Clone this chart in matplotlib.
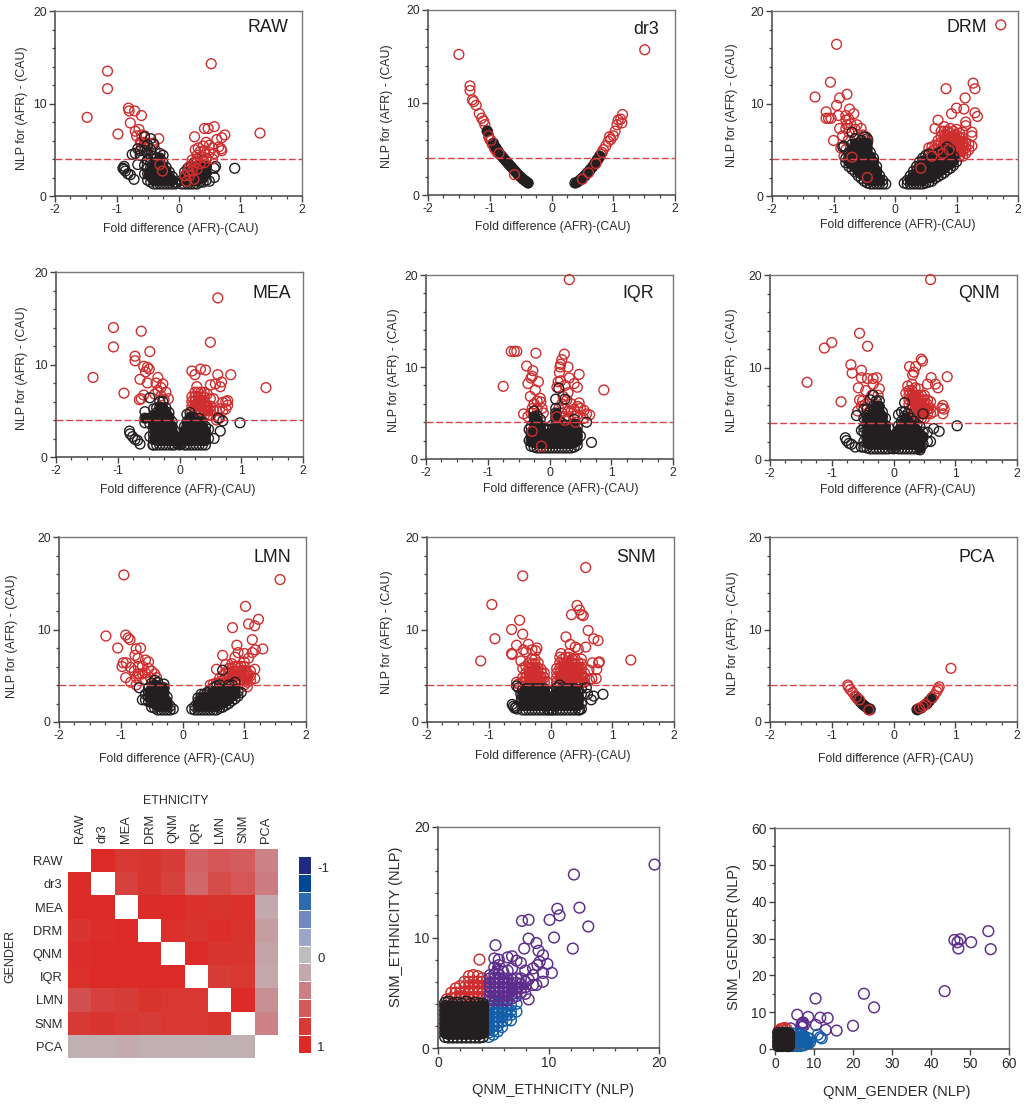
import numpy as np
import matplotlib
matplotlib.use("Agg")
import matplotlib.pyplot as plt
from matplotlib.colors import LinearSegmentedColormap
from matplotlib.ticker import MultipleLocator

plt.rcParams['font.family'] = ['Liberation Sans', 'DejaVu Sans']

W, H = 1028, 1106
BLACK, RED, BLUE, PURPLE = '#231f20', '#cf2e2e', '#145fa8', '#5c2d8c'

# ---- every cloud is a list of (x, [y values]) columns ----
RAW_RED = [(-1.48,[8.5]),(-1.15,[13.5,11.6]),(-.98,[6.7]),(-.81,[9.5]),(-.8,[9.2]),(-.71,[9.2]),(-.6,[8.7,6.6,5.8,5.2]),
 (-.78,[7.9]),(-.7,[7.0]),(-.64,[7.2]),(-.68,[6.5]),(-.55,[6.5,5.8]),(-.32,[6.2]),(-.62,[5.8]),(-.5,[5.5,3.9]),(-.42,[5.7]),
 (-.52,[4.8]),(-.38,[5.0])]
RAW_BLACK = [(-.05,[1.3,1.5]),(-.10,[1.3,1.7,2.1]),(-.15,[1.3,1.7,2.1,2.6]),(-.20,[1.3,1.7,2.1,2.6,3.1]),
 (-.25,[1.3,1.7,2.1,2.6,3.1,3.6,4.4]),(-.30,[1.3,1.7,2.1,2.6,3.1,3.6,4.1,4.6]),(-.35,[1.3,1.7,2.1,2.6,3.1,3.6,4.1]),
 (-.40,[1.3,1.7,2.1,2.6,3.1,3.6,4.3,5.6]),(-.45,[1.5,2.1,2.6,3.1,3.6,4.4,5.0,6.2]),(-.50,[1.7,2.4,3.0,3.9,4.6,5.5]),
 (-.55,[2.4,3.3,4.9,6.4]),(-.62,[4.4,4.9]),(-.66,[3.4,5.1]),(-.70,[4.6]),(-.72,[1.8]),(-.75,[4.5]),(-.78,[2.3]),
 (-.82,[2.4]),(-.86,[2.7]),(-.88,[3.2,2.9]),(-.90,[3.0]),
 (.05,[1.3,1.7]),(.1,[1.3,1.7,2.1,2.6]),(.15,[1.3,1.7,2.1,2.6,3.0]),(.2,[1.3,1.7,2.1,2.6,3.1]),
 (.25,[1.3,1.7,2.1,2.6,3.1,3.6]),(.3,[1.3,1.7,2.2,2.7,3.2,4.0]),(.35,[1.5,2.0,2.5,3.0,3.5]),(.4,[1.5,2.0,2.5,3.0,3.8]),
 (.45,[1.7,2.5,3.2,4.0]),(.5,[1.6]),(.58,[2.0,3.0]),(.6,[3.2]),(.91,[3.0])]
RAW_TOP = [(.53,[14.3]),(1.32,[6.8]),(.26,[6.4]),(.42,[7.3,4.9,3.6]),(.48,[7.3]),(.58,[7.5,4.6]),(.75,[6.6]),(.7,[6.3,4.9]),
 (.62,[6.1]),(.65,[5.3]),(.69,[5.1]),(.45,[5.8,4.1]),(.4,[5.4]),(.5,[5.5,4.7]),(.55,[5.2,4.0]),(.32,[5.2]),(.27,[5.0]),
 (.35,[4.8,3.5]),(.3,[4.4,2.9]),(.38,[4.2]),(.22,[3.9,2.7]),(.28,[3.7]),(.18,[3.2,2.2]),(.25,[3.2,1.8]),(.15,[2.7]),
 (.1,[2.2]),(.13,[1.6]),(-.3,[3.4]),(-.26,[2.7])]

DR3_RED = [(-1.5,[15.2]),(-1.32,[11.8,11.3]),(-1.28,[10.3]),(-1.26,[10.1]),(-1.22,[9.7]),(-1.17,[8.8]),(-1.13,[8.3]),(-1.1,[8.0]),
 (-1.08,[7.6]),(-1.04,[6.9]),(-1.02,[6.4]),(-1.0,[6.0]),(-.96,[5.5]),(-.92,[5.0]),(-.88,[4.6]),
 (.76,[3.9]),(.8,[4.4]),(.84,[4.9]),(.88,[5.3]),(.92,[5.8]),(.94,[6.3]),(.96,[6.0]),(1.0,[6.4]),(1.03,[6.9]),(1.06,[7.6]),
 (1.08,[8.1]),(1.12,[8.2]),(1.14,[7.8]),(1.15,[8.7]),(1.51,[15.7])]
DR3_BLACK = [(-.38,[1.3]),(-.42,[1.5]),(-.46,[1.7]),(-.5,[1.95]),(-.54,[2.2]),(-.58,[2.5]),(-.62,[2.8]),(-.66,[3.1]),(-.7,[3.4]),
 (-.74,[3.7]),(-.78,[4.0]),(-.82,[4.3]),(-.86,[4.7]),(-.9,[5.1]),(-.94,[5.6]),(-1.04,[6.9]),
 (.38,[1.3]),(.42,[1.4]),(.46,[1.6]),(.5,[1.85]),(.54,[2.1]),(.58,[2.4]),(.62,[2.7]),(.66,[3.0]),(.7,[3.4]),(.74,[3.8]),(.78,[4.2])]
DR3_TOP = [(.5,[1.7]),(.6,[2.4]),(.72,[3.4]),(.82,[4.6]),(-.6,[2.2]),(-.85,[4.5]),(-.98,[5.9]),(-1.02,[6.4])]

DRM_RED = [(-1.3,[10.7]),(-1.12,[9.1,8.4]),(-1.08,[8.4]),(-1.04,[8.4]),(-1.05,[12.3]),(-.95,[16.4,9.8]),(-.9,[10.6,7.3]),(-.92,[8.7]),
 (-.78,[11.0,7.7]),(-.74,[9.4]),(-.67,[8.9]),(-.8,[8.7,8.2,7.3,5.0]),(-.75,[8.3,6.9]),(-.72,[7.8]),(-.62,[7.7]),(-.55,[7.3]),
 (-1.0,[6.0]),(-.85,[6.5]),(-.65,[7.2]),(-.88,[5.2]),(-.83,[4.3]),(-.76,[6.0]),(-.6,[6.6]),(-.52,[6.6]),(-.47,[6.4]),(-.44,[6.0]),
 (.55,[5.2,4.6]),(.6,[5.3,4.8]),(.65,[5.5,5.0,7.3]),(.7,[5.5,6.0,8.2]),(.75,[5.2,5.8,6.4,7.0]),(.8,[5.2,5.8,6.4,7.0,7.5]),
 (.85,[5.5,6.0,6.5,7.0]),(.9,[5.3,5.8,6.3,6.8,7.3]),(.95,[5.0,5.5,6.0,6.5,7.0]),(1.0,[4.6,5.1,5.6,6.1,6.6,7.2]),
 (1.05,[4.3,4.8,5.3,5.8,6.3,6.8]),(1.1,[4.3,4.8,5.3,5.8,6.3,6.9]),(1.15,[4.6,5.2,5.8,7.6,8.0]),(1.2,[5.0,5.6]),(1.25,[5.4,6.5,6.9]),
 (.83,[11.6]),(1.0,[9.5]),(.92,[8.9]),(1.12,[9.4]),(1.14,[10.6]),(1.27,[12.2]),(1.3,[11.6,9.0]),(1.34,[8.6]),(1.72,[18.5])]
DRM_BLACK = [(-.15,[1.3]),(-.2,[1.3,1.7]),(-.25,[1.3,1.7,2.2]),(-.3,[1.3,1.7,2.2,2.7,3.2]),(-.35,[1.3,1.7,2.2,2.7,3.2,3.7,4.1]),
 (-.4,[1.3,1.7,2.2,2.7,3.2,3.7,4.2,4.7]),(-.45,[1.4,1.8,2.2,2.7,3.2,3.7,4.2,4.7,5.2,5.7,6.2]),
 (-.5,[1.6,2.2,2.7,3.2,3.7,4.2,4.7,5.2,5.7,6.4]),(-.55,[1.9,2.4,2.9,3.4,3.9,4.4,4.9,5.4,6.0]),(-.6,[2.2,2.7,3.2,3.7,4.2,4.7,5.2,5.7]),
 (-.65,[2.6,3.1,3.6,4.1,4.6,5.1,5.6,6.2]),(-.7,[2.9,3.4,3.9,4.4,4.9,5.6,6.9]),(-.75,[3.2,3.7,4.2,4.7]),(-.8,[3.6,4.1]),(-.85,[5.3]),(-.83,[5.4]),
 (.15,[1.4]),(.2,[1.3,1.7]),(.25,[1.3,1.7,2.2]),(.3,[1.3,1.7,2.2,2.7]),(.35,[1.3,1.7,2.2,2.7,3.2]),(.4,[1.3,1.7,2.2,2.7,3.2,3.7]),
 (.45,[1.3,1.7,2.2,2.7,3.2,3.7,4.1]),(.5,[1.4,1.9,2.4,2.9,3.4,3.9,4.4]),(.55,[1.5,2.0,2.5,3.0,3.5,4.0,4.5]),(.6,[1.6,2.1,2.6,3.1,3.6,4.1]),
 (.65,[1.9,2.4,2.9,3.4,3.9,4.4]),(.7,[2.1,2.6,3.1,3.6,4.1,4.6]),(.75,[2.3,2.8,3.3,3.8,4.3,4.8]),(.8,[2.5,3.0,3.5,4.0,4.5,5.0]),
 (.85,[2.8,3.3,3.8,4.3,4.8,5.3]),(.9,[3.0,3.5,4.0,4.5,5.0]),(.95,[3.3,3.8,4.3]),(1.0,[3.7])]
DRM_TOP = [(-.7,[4.2]),(-.45,[2.0]),(.42,[3.0]),(.6,[4.3]),(.7,[5.0]),(.78,[4.6]),(.88,[5.0])]

MEA_RED = [(-1.4,[8.6]),(-1.07,[14.0,11.9]),(-.9,[6.9]),(-.72,[10.9,10.4]),(-.62,[13.6,6.3]),(-.58,[9.8,6.7]),(-.52,[9.7,8.0]),(-.49,[9.5]),
 (-.55,[9.2]),(-.64,[8.4]),(-.48,[11.4]),(-.35,[8.6,7.2]),(-.38,[8.0]),(-.27,[7.9]),(-.3,[7.5,6.6]),(-.22,[7.0]),(-.18,[6.3]),
 (-.65,[6.2]),(-.4,[6.8]),(-.25,[6.2]),
 (.62,[17.2,8.9]),(.5,[12.4,7.8]),(.2,[9.3,5.0,5.5,6.0,6.5]),(.25,[8.9,5.0,5.5,6.0,6.5,7.0]),(.34,[9.5]),(.42,[9.4]),(.68,[8.1]),(.83,[8.9]),
 (.66,[7.6]),(.58,[7.9]),(.28,[7.6]),(1.4,[7.5]),(.3,[5.0,5.5,6.0,6.5,7.0]),(.35,[5.0,5.5,6.0,6.5,7.0]),(.4,[4.5,5.0,5.5,6.0,6.5,7.0]),
 (.45,[4.5,5.0,5.5,6.8]),(.5,[4.5,5.0,5.5,6.3]),(.55,[5.0,6.3]),(.6,[4.0,5.0]),(.65,[4.2,5.2]),(.7,[5.9,5.0]),(.75,[5.2,6.0]),(.78,[5.6,6.1])]
MEA_BLACK = [(0,[1.3,1.6,1.9]),(-.03,[1.4,1.8]),(-.08,[1.3,1.8,2.3,2.8]),(-.12,[1.3,1.8,2.3,2.8,3.3,3.8]),(-.17,[1.3,1.8,2.3,2.8,3.3,3.8,4.3,4.8]),
 (-.22,[1.3,1.8,2.3,2.8,3.3,3.8,4.3,4.8,5.3]),(-.27,[1.3,1.8,2.3,2.8,3.3,3.8,4.3,4.8,5.3,6.0]),(-.32,[1.3,1.8,2.3,2.8,3.3,3.8,4.3,4.8,5.4,6.0]),
 (-.37,[1.3,1.8,2.3,2.8,3.3,3.8,4.3,4.8,5.3]),(-.42,[1.3,1.9,2.4,3.0,3.5,4.0,4.5,5.2]),(-.48,[2.2,3.6,4.2,6.4]),(-.56,[3.7,4.2,4.9]),
 (-.64,[1.4]),(-.68,[1.8]),(-.72,[1.9]),(-.76,[2.2]),(-.8,[2.5]),(-.81,[2.8]),(-.43,[1.3]),
 (.03,[1.4,1.8]),(.08,[1.3,1.8,2.3,2.8,3.3]),(.12,[1.3,1.8,2.3,2.8,3.3,3.8,4.6]),(.17,[1.3,1.8,2.3,2.8,3.3,3.8,4.3,4.8]),
 (.22,[1.3,1.8,2.3,2.8,3.3,3.8,4.3]),(.27,[1.3,1.8,2.3,2.8,3.3,3.8]),(.32,[1.3,1.8,2.3,2.8,3.3,3.8,4.2]),(.37,[1.3,1.8,2.3,2.8,3.3,3.8]),
 (.42,[1.3,1.8,2.3,2.8,3.3]),(.47,[2.0,3.0]),(.56,[2.0]),(.66,[2.8]),(.7,[3.9]),(.98,[3.7]),(.63,[4.2])]

IQR_RED = [(-.75,[7.9]),(-.62,[11.7]),(-.57,[11.7]),(-.53,[11.7]),(-.22,[11.5]),(-.37,[10.1]),(-.27,[9.6]),(-.28,[9.0,5.5]),(-.3,[8.8,5.0]),
 (-.35,[8.2,4.6]),(-.18,[8.4]),(-.23,[7.5]),(-.31,[6.8]),(-.15,[6.6]),(-.14,[6.2]),(-.42,[4.9]),(-.25,[6.0]),(-.2,[6.3,5.5]),(-.12,[5.5]),(-.1,[5.0]),
 (.32,[19.5,8.8]),(.24,[11.4]),(.2,[10.8,6.0,5.0]),(.18,[10.3,8.5]),(.17,[10.0]),(.3,[10.0,7.2,5.2,4.4]),(.16,[9.4]),(.48,[9.2,6.1]),(.14,[8.4]),
 (.4,[8.2,5.4,4.7]),(.45,[7.8,4.8]),(.25,[8.0,5.5,4.6]),(.12,[7.8]),(.88,[7.5]),(.22,[6.8]),(.28,[6.4]),(.35,[6.0,5.2]),(.46,[5.7]),(.5,[5.5]),
 (.56,[5.3]),(.6,[4.9]),(.65,[4.8]),(.55,[4.4]),(.15,[5.5])]
IQR_BLACK = [(-.33,[2.0,3.2]),(-.3,[1.4,1.9,2.4,2.9,3.5]),(-.25,[1.3,1.8,2.3,2.8,3.3,4.0,4.6,5.2]),(-.2,[1.2,1.7,2.2,2.7,3.2,3.7,4.2,4.7]),
 (-.15,[1.2,1.7,2.2,2.7,3.2,3.7,4.3]),(-.1,[1.2,1.7,2.2,2.7,3.4]),(-.05,[1.2,1.7,2.2,2.7,3.2]),(0,[1.2,1.7,2.2,2.7,3.2]),
 (.05,[1.2,1.7,2.2,2.7,3.2,3.7]),(.1,[1.2,1.7,2.2,2.7,3.2,3.7,4.5,5.0,5.5,6.5]),(.15,[1.2,1.7,2.2,2.7,3.2,3.7,4.2,7.7]),
 (.2,[1.2,1.7,2.2,2.7,3.2,3.9]),(.25,[1.2,1.7,2.2,2.7,3.2,3.7,6.5]),(.3,[1.2,1.7,2.2,2.7,3.4]),(.35,[1.2,1.7,2.2,2.7,3.2,3.7]),
 (.4,[1.3,1.8,2.3,2.8,3.3,3.8,4.3]),(.45,[1.5,2.0,2.5,3.0,3.5]),(.5,[2.5]),(.6,[4.0]),(.68,[1.8])]
IQR_TOP = [(-.28,[3.0]),(-.13,[1.4]),(.12,[4.6]),(.25,[4.2]),(.42,[4.0])]

QNM_RED = [(-1.4,[8.4]),(-1.12,[12.1]),(-1.0,[12.7]),(-.85,[6.3]),(-.69,[10.3]),(-.67,[9.4]),(-.55,[13.7,6.5]),(-.42,[12.3,8.8]),(-.52,[9.7,8.9,5.8]),
 (-.33,[8.8,8.2]),(-.27,[8.9]),(-.57,[7.8]),(-.45,[7.5]),(-.23,[7.7]),(-.58,[5.3]),(-.5,[6.4]),(-.46,[6.0]),(-.35,[7.0]),(-.25,[7.0]),
 (.6,[19.5,5.0,5.6,6.3]),(.45,[10.9,4.5,5.0,5.5,6.0,6.5,7.0]),(.47,[10.7]),(.26,[10.1]),(.36,[10.1]),(.33,[9.5]),(.31,[9.2]),(.61,[8.9]),
 (.87,[9.0]),(.68,[8.2]),(.72,[7.8]),(.55,[8.2,5.0,5.5,6.0,6.5]),(.23,[8.0]),(.2,[7.2]),(.8,[5.9,5.0]),(.82,[5.5]),(.78,[5.6]),(.65,[5.2]),
 (.25,[6.0,6.5,7.0,7.5]),(.3,[5.5,6.0,6.5,7.0,7.5,8.2]),(.35,[5.0,5.5,6.0,6.5,7.0,7.8]),(.4,[4.5,5.0,5.5,6.0,6.5,7.0,7.7]),(.5,[4.5,5.0,5.5,6.0,6.5,7.0])]
QNM_BLACK = [(0,[1.2,1.6,2.0]),(-.03,[1.3,1.8]),(-.08,[1.2,1.7,2.2,2.7,3.5]),(-.13,[1.2,1.7,2.2,2.7,3.2,3.7,4.5]),(-.18,[1.2,1.7,2.2,2.7,3.2,3.7,4.2,4.7,5.2]),
 (-.23,[1.2,1.7,2.2,2.7,3.2,3.7,4.2,4.7,5.2,5.8,6.4]),(-.28,[1.2,1.7,2.2,2.7,3.2,3.7,4.2,4.7,5.2,5.8,6.4]),
 (-.33,[1.2,1.7,2.2,2.7,3.2,3.7,4.2,4.7,5.2,5.8,7.0]),(-.38,[1.2,1.7,2.2,2.7,3.2,3.7,4.2,4.7,5.2,6.5]),(-.43,[1.3,1.8,2.3,2.8,3.3,3.8,4.3,4.8,5.5]),
 (-.48,[1.4,2.0,3.0,3.5,4.5,5.5]),(-.52,[3.2,1.4]),(-.6,[4.8]),(-.62,[1.4]),(-.68,[1.7]),(-.72,[1.8]),(-.76,[2.1]),(-.78,[2.4]),
 (.03,[1.3,1.8,2.3]),(.08,[1.2,1.7,2.2,2.7,3.2,3.7,4.9]),(.13,[1.2,1.7,2.2,2.7,3.2,3.7,4.2,5.2]),(.18,[1.2,1.7,2.2,2.7,3.2,3.7,4.2,4.7,5.2,6.2]),
 (.23,[1.2,1.7,2.2,2.7,3.2,3.7,4.2,5.0]),(.28,[1.2,1.7,2.2,2.7,3.2,3.7,4.5]),(.33,[1.2,1.7,2.2,2.7,3.2,3.7,4.2]),(.38,[1.2,1.7,2.2,2.7,3.2,3.8]),
 (.43,[1.1,1.3,1.8,2.3,2.8,3.6]),(.48,[1.7,2.5,3.0,5.0]),(.55,[2.0,3.0]),(.6,[2.0]),(.65,[3.4]),(.74,[3.1]),(1.03,[3.7])]

LMN_RED = [(-1.24,[9.3]),(-1.05,[8.0]),(-.92,[9.4,4.8]),(-.88,[9.1]),(-.85,[8.9]),(-.95,[15.9]),(-.75,[7.9,4.8,4.0]),(-.68,[8.0]),(-.77,[7.2]),(-.72,[6.9,6.0,5.2]),
 (-.98,[6.0]),(-.96,[6.4]),(-.91,[6.4]),(-.84,[5.9,4.3]),(-.78,[5.5]),(-.6,[6.7,5.3,4.6]),(-.55,[6.5,5.8]),(-.65,[6.0,5.2]),(-.7,[5.2]),(-.5,[5.5]),
 (-.45,[5.2]),(-.52,[4.8]),(-.42,[4.8]),
 (1.58,[15.4]),(1.02,[12.5]),(1.23,[11.1]),(1.07,[10.6,6.9]),(1.17,[10.4,4.7,5.7]),(.81,[10.2]),(1.13,[8.9,7.5]),(.88,[8.3]),(1.18,[7.8]),(1.3,[7.9]),
 (.9,[7.5,4.5,5.0,5.5,6.0]),(1.0,[7.4,4.0,4.5,5.0,5.5,6.0,6.5]),(.85,[7.0,4.5,5.0,5.5,6.0]),(.65,[7.2,4.5,5.0]),(.55,[5.7,4.2]),(.6,[4.2,4.7]),
 (.7,[4.3,4.8,5.3,6.2]),(.75,[4.3,4.8,5.3,5.8]),(.8,[4.3,4.8,5.3,5.8,6.3]),(.95,[4.5,5.0,5.5,6.0]),(1.05,[3.8,4.3,4.8,5.3]),(1.1,[4.5,5.0,5.5]),
 (.5,[4.1]),(.45,[4.0])]
LMN_BLACK = [(-.15,[1.4]),(-.2,[1.3,1.7]),(-.25,[1.3,1.7,2.2,2.7]),(-.3,[1.3,1.7,2.2,2.7,3.2,3.7,4.1]),(-.35,[1.3,1.7,2.2,2.7,3.2,3.7]),
 (-.4,[1.3,1.7,2.2,2.7,3.2,3.9,4.3]),(-.45,[1.5,2.0,2.5,3.0,3.5,4.0,4.5]),(-.5,[1.6,2.1,2.6,3.1,3.6,4.2]),(-.55,[2.2,2.7,3.2,3.7]),(-.6,[2.4,3.0]),
 (-.65,[2.4]),(-.7,[3.7]),(.15,[1.4]),(.2,[1.3,1.7]),(.25,[1.3,1.7,2.2,2.6]),(.3,[1.3,1.7,2.2,2.6,3.0]),(.35,[1.3,1.7,2.2,2.7,3.0]),
 (.4,[1.3,1.7,2.2,2.7,3.2]),(.45,[1.3,1.7,2.2,2.7,3.4]),(.5,[1.3,1.7,2.2,2.7,3.2,3.7]),(.55,[1.3,1.7,2.2,2.7,3.2,3.9]),(.6,[1.5,2.0,2.5,3.0,3.6,4.0]),
 (.65,[1.6,2.1,2.6,3.5,5.6]),(.7,[1.8,2.3,2.8,3.3,3.6]),(.75,[2.0,2.5,3.0,3.5,4.0]),(.8,[2.3,2.8,3.3,4.0]),(.85,[2.5,3.0,3.5,4.3]),(.9,[2.8,3.3]),(.95,[3.2])]

SNM_RED = [(-1.13,[6.6]),(-.95,[12.7]),(-.9,[9.0]),(-.45,[15.8,9.5,4.3,4.8,5.8]),(-.5,[11.0]),(-.63,[10.0,7.4]),(-.55,[8.3,4.3]),(-.62,[7.3]),(-.36,[8.4]),
 (-.44,[7.8]),(-.4,[7.6,4.3,4.8,5.3,6.0]),(-.3,[7.8,4.3,4.8,5.3,5.8,6.3,6.8]),(-.22,[8.0]),(-.24,[7.7]),(-.48,[6.6]),(-.52,[4.1]),
 (-.35,[4.3,4.8,5.3,5.8,6.4]),(-.25,[4.3,4.8,5.3,5.8,6.3,6.8]),(-.2,[4.3,4.8,5.3,5.8,6.4]),(-.15,[4.3,4.8,5.3,5.7]),(-.1,[4.3,4.8,5.3]),(-.05,[4.3]),
 (.57,[16.7,8.1]),(.43,[12.6]),(.47,[12.1]),(.5,[11.6,4.3,4.8,5.3,5.8,6.3,6.8]),(.53,[11.5]),(.34,[11.6]),(.61,[9.9]),(.7,[9.0]),(.77,[8.8]),(.25,[9.2,4.3,4.8,5.3,5.8,6.3,7.0]),
 (.32,[8.4]),(.4,[8.1,4.3,4.8,5.3,5.8,6.3,6.8]),(.45,[7.9,4.3,4.8,5.3,5.8,6.4]),(.17,[7.4]),(.3,[7.4,4.3,4.8,5.3,5.8,6.3,7.0]),(1.3,[6.7]),(.78,[6.4]),(.79,[6.5]),
 (.68,[6.4]),(.75,[5.7]),(.62,[5.6]),(.74,[4.7]),(.67,[4.7]),(.63,[4.5]),(.1,[4.3,4.8,5.3,5.8]),(.15,[4.3,4.8,5.3,5.8,6.4,7.0]),(.2,[4.3,4.8,5.3,5.8,6.3,6.8]),
 (.35,[4.3,4.8,5.3,5.8,6.3,6.8]),(.55,[4.3,4.8,5.3])]
SNM_BLACK = [(-.45,[1.3,1.8,2.3,2.9,3.5]),(-.4,[1.3,1.8,2.3,2.8,3.3,3.6]),(-.35,[1.3,1.8,2.3,2.8,3.3,3.6]),(-.3,[1.3,1.8,2.3,2.8,3.3,3.6]),
 (-.25,[1.3,1.8,2.3,2.8,3.3,3.6]),(-.2,[1.3,1.8,2.3,2.8,3.3,3.6]),(-.15,[1.3,1.8,2.3,2.8,3.3,3.6]),(-.1,[1.3,1.8,2.3,2.8,3.3,3.6]),
 (-.05,[1.3,1.8,2.3,2.8,3.3]),(-.02,[1.3,1.8,2.3]),(.02,[1.3,1.8,2.3]),(.05,[1.3,1.8,2.3,2.8,3.3]),(.1,[1.3,1.8,2.3,2.8,3.3,3.7]),(.15,[1.3,1.8,2.3,2.8,3.3,4.0]),
 (.2,[1.3,1.8,2.3,2.8,3.3,3.7]),(.25,[1.3,1.8,2.3,2.8,3.3,3.6]),(.3,[1.3,1.8,2.3,2.8,3.3,3.6]),(.35,[1.3,1.8,2.3,2.8,3.3,3.6]),(.4,[1.3,1.8,2.3,2.8,3.3,3.6]),
 (.45,[1.3,1.8,2.3,2.8,3.5]),(.5,[1.4,2.0,3.0,3.6]),(-.58,[1.5]),(-.6,[1.7]),(-.62,[1.9]),(-.56,[1.6]),(-.54,[1.4]),(-.55,[3.9]),(-.52,[3.7]),(-.48,[3.0]),(-.47,[2.5]),
 (.6,[3.0]),(.66,[2.4]),(.7,[2.8]),(.85,[3.0]),(.47,[1.3]),(.58,[3.7])]

PCA_RED = [(.93,[5.8]),(.74,[3.8]),(.72,[3.6]),(.7,[3.3]),(.66,[2.9]),(-.74,[4.0]),(-.73,[3.8]),(-.7,[3.5]),(-.66,[3.2]),(-.62,[2.8]),(-.6,[2.7]),(-.38,[1.3])]
PCA_BLACK = [(-.38,[1.4]),(-.42,[1.5]),(-.46,[1.7]),(-.5,[1.9]),(-.54,[2.2]),(-.58,[2.5]),(.38,[1.35]),(.4,[1.4]),(.44,[1.5]),(.5,[1.8]),(.54,[2.0]),(.58,[2.3]),(.62,[2.6])]
PCA_TOP = [(.42,[1.5]),(.48,[1.7]),(.52,[1.9]),(.62,[2.6]),(-.55,[2.4]),(-.6,[2.7]),(-.4,[1.3])]

# heat map: correlation values, rows GENDER, columns ETHNICITY
METHODS = ['RAW','dr3','MEA','DRM','QNM','IQR','LMN','SNM','PCA']
CORR = [
 [np.nan,.98,.82,.85,.78,.55,.62,.58,.38],
 [.97,np.nan,.75,.85,.75,.52,.68,.62,.42],
 [.97,.97,np.nan,.96,.98,.90,.88,.93,.18],
 [.87,.95,.97,np.nan,.92,.85,.95,.88,.25],
 [.95,.97,.98,.98,np.nan,.97,.87,.87,.22],
 [.93,.97,.98,.98,.98,np.nan,.78,.83,.20],
 [.66,.75,.78,.88,.83,.83,np.nan,.98,.32],
 [.80,.85,.80,.78,.83,.83,.88,np.nan,.38],
 [.12,.12,.15,.12,.12,.12,.10,.12,np.nan]]
LEVELS = [-1,-.8,-.6,-.4,-.2,0,.2,.4,.6,.8,1]
LEVEL_COLORS = ['#1f2a80','#004a94','#2f6bb0','#7389c0','#9ca7c8','#bdbdbd','#c4a8ac','#cc8084','#d45a5c','#d73a35','#dd2a26']

# bottom scatter panels
ETH_BLACK = [(.65,[1.0,1.4,1.8,2.2,2.6,3.0,3.4,3.8,4.1]),(.95,[.95,1.3,1.7,2.1,2.5,2.9,3.3,3.7,4.2]),(1.35,[.95,1.3,1.7,2.1,2.5,2.9,3.3,3.7,4.0]),
 (1.75,[.95,1.3,1.7,2.1,2.5,2.9,3.3,3.7,4.1]),(2.15,[.95,1.3,1.7,2.1,2.5,2.9,3.3,3.7,4.0]),(2.55,[.95,1.3,1.7,2.1,2.5,2.9,3.3,3.7,4.2]),
 (2.95,[.95,1.3,1.7,2.1,2.5,2.9,3.3,3.7,4.0]),(3.35,[.95,1.3,1.7,2.1,2.5,2.9,3.3,3.7,4.1]),(3.75,[.95,1.3,1.7,2.1,2.5,2.9,3.3,3.7,4.0]),
 (4.05,[1.0,1.4,1.8,2.2,2.6,3.0,3.4,3.8,4.0])]
ETH_RED = [(.8,[4.4]),(1.2,[4.5,5.0]),(1.6,[4.5,5.0,5.4]),(2.0,[4.5,5.0,5.6]),(2.4,[4.5,5.0,5.5,6.0]),(2.8,[4.5,5.0,5.5,6.0,6.5]),
 (3.2,[4.5,5.0,5.5,6.0,6.6]),(3.6,[4.5,5.0,5.5,6.0,6.5]),(4.0,[4.5,5.0,5.5,6.0,6.3]),(3.75,[8.0])]
ETH_BLUE = [(4.6,[1.0,1.4,1.8,2.2,2.6,3.0,3.4,3.8]),(5.0,[1.2,1.6,2.0,2.4,2.8,3.2,3.6,4.0]),(5.4,[1.5,2.0,2.4,2.8,3.2,3.6,4.0]),
 (5.8,[1.9,2.4,2.8,3.2,3.6,4.0]),(6.2,[2.5,3.0,3.5,4.0]),(6.6,[2.5,3.0,3.4,3.9]),(7.1,[3.3,4.0])]
ETH_PURPLE = [(4.7,[4.3,4.7,5.1,5.5,5.9,6.3,6.6]),(5.1,[4.3,4.7,5.1,5.5,5.9,6.3,6.7,7.3,8.1]),(5.5,[4.3,4.7,5.1,5.5,5.9,6.3,6.7,7.5,8.0]),
 (5.9,[4.3,4.7,5.1,5.5,5.9,6.3,6.9]),(6.3,[4.3,4.7,5.1,5.5,5.9,6.3,7.0,8.2]),(6.7,[4.5,4.9,5.3,5.7,6.2,7.2,8.3]),(7.1,[4.7,5.1,5.5,5.9,6.3,7.9]),
 (7.5,[5.0,5.4,5.8,6.3,7.7]),(7.9,[4.9,5.5,6.0,7.0]),(8.2,[4.4,6.2]),(8.6,[5.7,6.6,7.2]),(19.6,[16.6]),(12.3,[15.7]),(10.8,[12.6]),(12.8,[12.7]),(11.0,[12.0]),
 (10.1,[11.6]),(7.6,[11.5]),(8.2,[11.6]),(13.6,[11.0]),(10.5,[10.0]),(8.2,[9.9]),(5.2,[9.3]),(7.8,[9.0]),(8.9,[9.5,5.7]),(9.1,[8.8]),(12.2,[9.0]),(9.5,[8.4,6.0,6.8]),
 (9.2,[7.8]),(9.0,[7.5]),(9.9,[7.6]),(10.3,[6.8])]

GEN_BLACK = [(.8,[.8,2.0,3.2,4.4]),(1.9,[.8,2.0,3.2,4.4]),(3.0,[.8,2.0,3.2,4.4]),(3.6,[.8,2.0,3.2,4.2])]
GEN_RED = [(1.0,[5.0]),(1.5,[5.4]),(2.0,[5.5]),(2.5,[5.7]),(3.0,[5.3])]
GEN_BLUE = [(4.6,[.8,2.0,3.2,4.2]),(5.6,[.8,2.0,3.2,4.2]),(6.5,[.8,2.0,3.2,4.0]),(7.4,[1.0,2.0,3.0,3.5]),(8.4,[1.5,2.0,3.0]),(9.0,[1.8,2.7]),(11.6,[3.2]),(11.0,[3.9]),(12.0,[2.9])]
GEN_PURPLE = [(4.0,[5.6]),(5.7,[9.3]),(6.8,[6.6]),(7.0,[7.0]),(7.2,[7.2]),(6.9,[6.0]),(7.4,[6.4]),(8.5,[8.7]),(10.4,[13.7]),(10.5,[6.5]),(11.6,[8.5]),(13.5,[8.4]),(13.0,[5.2]),
 (15.8,[5.0]),(20.0,[6.3]),(22.8,[15.0]),(25.4,[11.3]),(43.5,[15.7]),(46.0,[29.6]),(46.8,[29.0]),(47.5,[29.8]),(47.0,[27.3]),(50.3,[29.0]),(54.7,[32.0]),(55.3,[27.1])]

VOLCANO = {'RAW':(RAW_RED,RAW_BLACK,RAW_TOP),'dr3':(DR3_RED,DR3_BLACK,DR3_TOP),'DRM':(DRM_RED,DRM_BLACK,DRM_TOP),
           'MEA':(MEA_RED,MEA_BLACK,[]),'IQR':(IQR_RED,IQR_BLACK,IQR_TOP),'QNM':(QNM_RED,QNM_BLACK,[]),
           'LMN':(LMN_RED,LMN_BLACK,[]),'SNM':(SNM_RED,SNM_BLACK,[]),'PCA':(PCA_RED,PCA_BLACK,PCA_TOP)}
THIN_CURVES = ('dr3', 'PCA')   # the black marks merge into a solid band in these two

# layout in pixels: axes l, r, top, bottom; panel name centre; x label centre; y label centre
LAYOUT = {
 'RAW':((55,302,11,196),(268,28),(181,229),(22,108)),
 'dr3':((428,675,10,195),(646,30),(553,227),(387,106)),
 'DRM':((772,1018,11,196),(967,28),(898,225),(732,105)),
 'MEA':((56,303,272,457),(272,294),(178,490),(22,368)),
 'IQR':((426,673,275,459),(638,293),(561,489),(394,370)),
 'QNM':((770,1017,275,460),(979,293),(898,490),(732,370)),
 'LMN':((59,306,537,722),(272,558),(177,759),(12,636)),
 'SNM':((427,674,537,722),(636,557),(553,756),(387,632)),
 'PCA':((770,1017,537,722),(977,557),(896,759),(733,633)),
}

fig = plt.figure(figsize=(W/100, H/100), dpi=100, facecolor='white')

def fx(px): return px / W
def fy(py): return 1 - py / H
def make_ax(l, r, t, b):
    return fig.add_axes([fx(l), fy(b), (r-l)/W, (b-t)/H])
def put(px, py, s, **kw):
    kw.setdefault('ha', 'center'); kw.setdefault('va', 'center'); kw.setdefault('color', '#2b2b2b')
    fig.text(fx(px), fy(py), s, **kw)
def flat(cols):
    xs = [x for x, ys in cols for _ in ys]
    ys = [y for _, yy in cols for y in yy]
    return xs, ys
def inner(cols, gap):
    """Points of a column with close neighbours on both sides: overplotting turns those solid."""
    out = []
    for x, ys in cols:
        s = sorted(ys)
        keep = [s[i] for i in range(1, len(s)-1) if s[i]-s[i-1] <= gap and s[i+1]-s[i] <= gap]
        if keep:
            out.append((x, keep))
    return out
def rings(ax, cols, color, s=50, lw=1.0, z=3, core=0, gap=0.8, solid=False):
    if not cols:
        return
    x, y = flat(cols)
    ax.scatter(x, y, s=s, facecolors='none', edgecolors=color, linewidths=lw, zorder=z, clip_on=False)
    fill = cols if solid else inner(cols, gap)
    if core and fill:
        x, y = flat(fill)
        ax.scatter(x, y, s=core, c=color, linewidths=0, zorder=z, clip_on=False)
def style(ax, size):
    for k in ('left', 'bottom'):
        ax.spines[k].set_color('#444444'); ax.spines[k].set_linewidth(1.1)
    for k in ('top', 'right'):
        ax.spines[k].set_color('#777777'); ax.spines[k].set_linewidth(1.0)
    ax.tick_params(which='major', length=4, width=1, color='#444444', labelsize=size, labelcolor='#2b2b2b', pad=2)
    ax.tick_params(which='minor', length=2.2, width=0.9, color='#444444')

for name, (red, black, top) in VOLCANO.items():
    box, title, xl, yl = LAYOUT[name]
    ax = make_ax(*box)
    ax.set_xlim(-2, 2); ax.set_ylim(0, 20)
    ax.set_xticks([-2, -1, 0, 1, 2]); ax.set_xticklabels(['-2', '-1', '0', '1', '2'])
    ax.set_yticks([0, 10, 20])
    ax.xaxis.set_minor_locator(MultipleLocator(0.25)); ax.yaxis.set_minor_locator(MultipleLocator(2))
    style(ax, 8.8)
    rings(ax, red, RED, z=3, core=16)
    rings(ax, black, BLACK, z=4, core=50, solid=name in THIN_CURVES)
    rings(ax, top, RED, z=5)
    ax.axhline(4, color='#d8444a', lw=1.0, ls=(0, (5, 2)), zorder=6)
    put(*title, name, fontsize=12.8, color='#1c1c1c')
    put(*xl, 'Fold difference (AFR)-(CAU)', fontsize=8.8)
    put(*yl, 'NLP for (AFR) - (CAU)', fontsize=8.9, rotation=90)

# heat map
cmap = LinearSegmentedColormap.from_list('rb', list(zip(np.linspace(0, 1, 11), LEVEL_COLORS)))
cmap.set_bad('white')
ax = make_ax(68, 278, 849, 1058)
ax.imshow(np.ma.masked_invalid(np.array(CORR)), cmap=cmap, vmin=-1, vmax=1, extent=(0, 9, 9, 0),
          aspect='auto', interpolation='nearest')
ax.set_xlim(0, 9); ax.set_ylim(9, 0)
ax.xaxis.tick_top()
ax.set_xticks(np.arange(9) + .5); ax.set_xticklabels(METHODS, rotation=90, fontsize=9.3, color='#2b2b2b')
ax.set_yticks(np.arange(9) + .5); ax.set_yticklabels(METHODS, fontsize=9.3, color='#2b2b2b')
ax.tick_params(length=0, pad=4)
for s in ax.spines.values():
    s.set_visible(False)
put(176, 801, 'ETHNICITY', fontsize=9)
put(10, 956, 'GENDER', fontsize=9, rotation=90)

# colour key
ax = make_ax(298, 311, 856, 1053)
ax.pcolormesh([[v] for v in LEVELS], cmap=cmap, vmin=-1, vmax=1, edgecolors='white', linewidth=0.6)
ax.set_ylim(11, 0); ax.set_xticks([]); ax.set_yticks([])
for s in ax.spines.values():
    s.set_visible(False)
put(317, 869, '-1', fontsize=9.5, ha='left')
put(317, 959, '0', fontsize=9.5, ha='left')
put(317, 1048, '1', fontsize=9.5, ha='left')

# scatter: ethnicity
ax = make_ax(438, 659, 827, 1048)
ax.set_xlim(0, 20); ax.set_ylim(0, 20)
ax.set_xticks([0, 10, 20]); ax.set_yticks([0, 10, 20])
ax.xaxis.set_minor_locator(MultipleLocator(2)); ax.yaxis.set_minor_locator(MultipleLocator(2))
style(ax, 10)
rings(ax, ETH_BLUE, BLUE, s=60, z=3, lw=1.05, core=14)
rings(ax, ETH_PURPLE, PURPLE, s=60, z=4, lw=1.05, core=14)
rings(ax, ETH_RED, RED, s=60, z=3, lw=1.05, core=14)
rings(ax, ETH_BLACK, BLACK, s=60, z=5, lw=1.05, core=60)
put(553, 1090, 'QNM_ETHNICITY (NLP)', fontsize=10.5)
put(396, 927, 'SNM_ETHNICITY (NLP)', fontsize=10.5, rotation=90)

# scatter: gender
ax = make_ax(775, 1009, 828, 1049)
ax.set_xlim(0, 60); ax.set_ylim(0, 60)
ax.set_xticks(range(0, 61, 10)); ax.set_yticks(range(0, 61, 10))
ax.yaxis.set_minor_locator(MultipleLocator(5))
style(ax, 10)
rings(ax, GEN_BLUE, BLUE, s=60, z=4, lw=1.05, core=60, gap=1.3)
rings(ax, GEN_PURPLE, PURPLE, s=60, z=3, lw=1.05)
rings(ax, GEN_RED, RED, s=60, z=3, lw=1.05)
rings(ax, GEN_BLACK, BLACK, s=60, z=5, lw=1.05, core=60, gap=1.3, solid=True)
put(897, 1092, 'QNM_GENDER (NLP)', fontsize=10.5)
put(734, 937, 'SNM_GENDER (NLP)', fontsize=10.5, rotation=90)

fig.savefig('out.png', dpi=100)
